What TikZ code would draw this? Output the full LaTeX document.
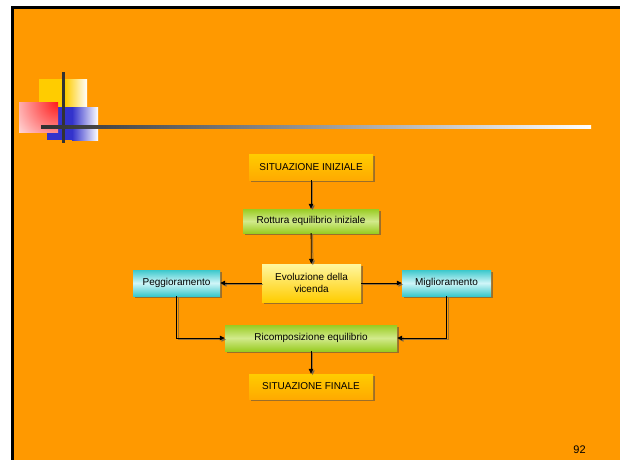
\documentclass[tikz,border=0pt]{standalone}
\usepackage{fontspec}
\setmainfont{Liberation Sans}
\usetikzlibrary{arrows.meta,shadows}

\definecolor{slidebg}{HTML}{FF9900}
\definecolor{gold}{HTML}{FFCC00}
\definecolor{goldlow}{HTML}{FFAA00}
\definecolor{paleyellow}{HTML}{FFF7A0}
\definecolor{leaf}{HTML}{99CC22}
\definecolor{leaflight}{HTML}{D2EA8C}
\definecolor{teal}{HTML}{3CC8CC}
\definecolor{tealtint}{HTML}{D0F6F8}
\definecolor{decoblue}{HTML}{3333CC}
\definecolor{decored}{HTML}{FF1A1A}
\definecolor{rule}{HTML}{333333}

\tikzset{
  box/.style={inner sep=0pt, align=center,
    font=\fontsize{10}{12}\selectfont,
    drop shadow={shadow xshift=2pt, shadow yshift=-2pt, fill=black!70, opacity=0.55}},
  goldbox/.style={box, top color=gold, bottom color=goldlow},
  greenbox/.style={box, top color=leaf, bottom color=leaf, middle color=leaflight},
  yellowbox/.style={box, top color=paleyellow, bottom color=gold},
  tealbox/.style={box, top color=teal, bottom color=teal, middle color=tealtint},
  conn/.style={draw=black, line width=0.8pt, -{Triangle[length=5pt,width=4.5pt]}},
  connshade/.style={draw=black!65, opacity=0.6, line width=1pt,
    -{Triangle[length=5pt,width=4.5pt]},
    transform canvas={shift={(1.5pt,-1.5pt)}}},
}

\begin{document}
\begin{tikzpicture}[x=1pt,y=-1pt]
  \useasboundingbox (0,0) rectangle (620,459);
  \clip (0,0) rectangle (620,459);

  % slide background and frame
  \fill[slidebg] (12.5,7) rectangle (625,465);
  \draw[line width=3pt] (12.5,465) -- (12.5,7) -- (625,7);

  % corner decoration
  \fill[gold] (39,79) rectangle (66,107);
  \shade[left color=gold, right color=white] (65,79) rectangle (87,107);
  \fill[decoblue] (47,107) rectangle (73,140);
  \shade[left color=decoblue, right color=white] (72,107) rectangle (98,140);
  % red square: radial fade from its upper right corner
  \begin{scope}
    \clip (19,102) rectangle (58,132);
    \fill[white] (19,102) rectangle (58,132);
    \shade[inner color=decored, outer color=white] (-2,42) rectangle (118,162);
  \end{scope}
  \fill[rule] (62,72) rectangle (65,143);
  \shade[left color=rule!95!black, right color=white] (41,125) rectangle (591,128);

  % flow chart
  \node[goldbox,   minimum width=124pt, minimum height=26pt] (start) at (311,167)   {SITUAZIONE INIZIALE};
  \node[greenbox,  minimum width=136pt, minimum height=24pt] (break) at (311,221)   {Rottura equilibrio iniziale};
  \node[yellowbox, minimum width=99pt,  minimum height=38pt] (evo)   at (311.5,283) {Evoluzione della\\vicenda};
  \node[tealbox,   minimum width=87pt,  minimum height=26pt] (worse) at (176.5,283) {Peggioramento};
  \node[tealbox,   minimum width=89pt,  minimum height=26pt] (better) at (446.5,283) {Miglioramento};
  \node[greenbox,  minimum width=172pt, minimum height=26pt] (recomp) at (311,338)  {Ricomposizione equilibrio};
  \node[goldbox,   minimum width=124pt, minimum height=25pt] (final) at (311,386.5) {SITUAZIONE FINALE};

  % connector shadows
  \draw[connshade] (start) -- (break);
  \draw[connshade] (break) -- (evo);
  \draw[connshade] (evo) -- (worse);
  \draw[connshade] (evo) -- (better);
  \draw[connshade] (worse.south) |- (recomp.west);
  \draw[connshade] (better.south) |- (recomp.east);
  \draw[connshade] (recomp) -- (final);

  % connectors
  \draw[conn] (start) -- (break);
  \draw[conn] (break) -- (evo);
  \draw[conn] (evo) -- (worse);
  \draw[conn] (evo) -- (better);
  \draw[conn] (worse.south) |- (recomp.west);
  \draw[conn] (better.south) |- (recomp.east);
  \draw[conn] (recomp) -- (final);

  % page number
  \node[font=\fontsize{11}{13}\selectfont, inner sep=0pt] (pagenum) at (579.5,450) {92};
\end{tikzpicture}
\end{document}
